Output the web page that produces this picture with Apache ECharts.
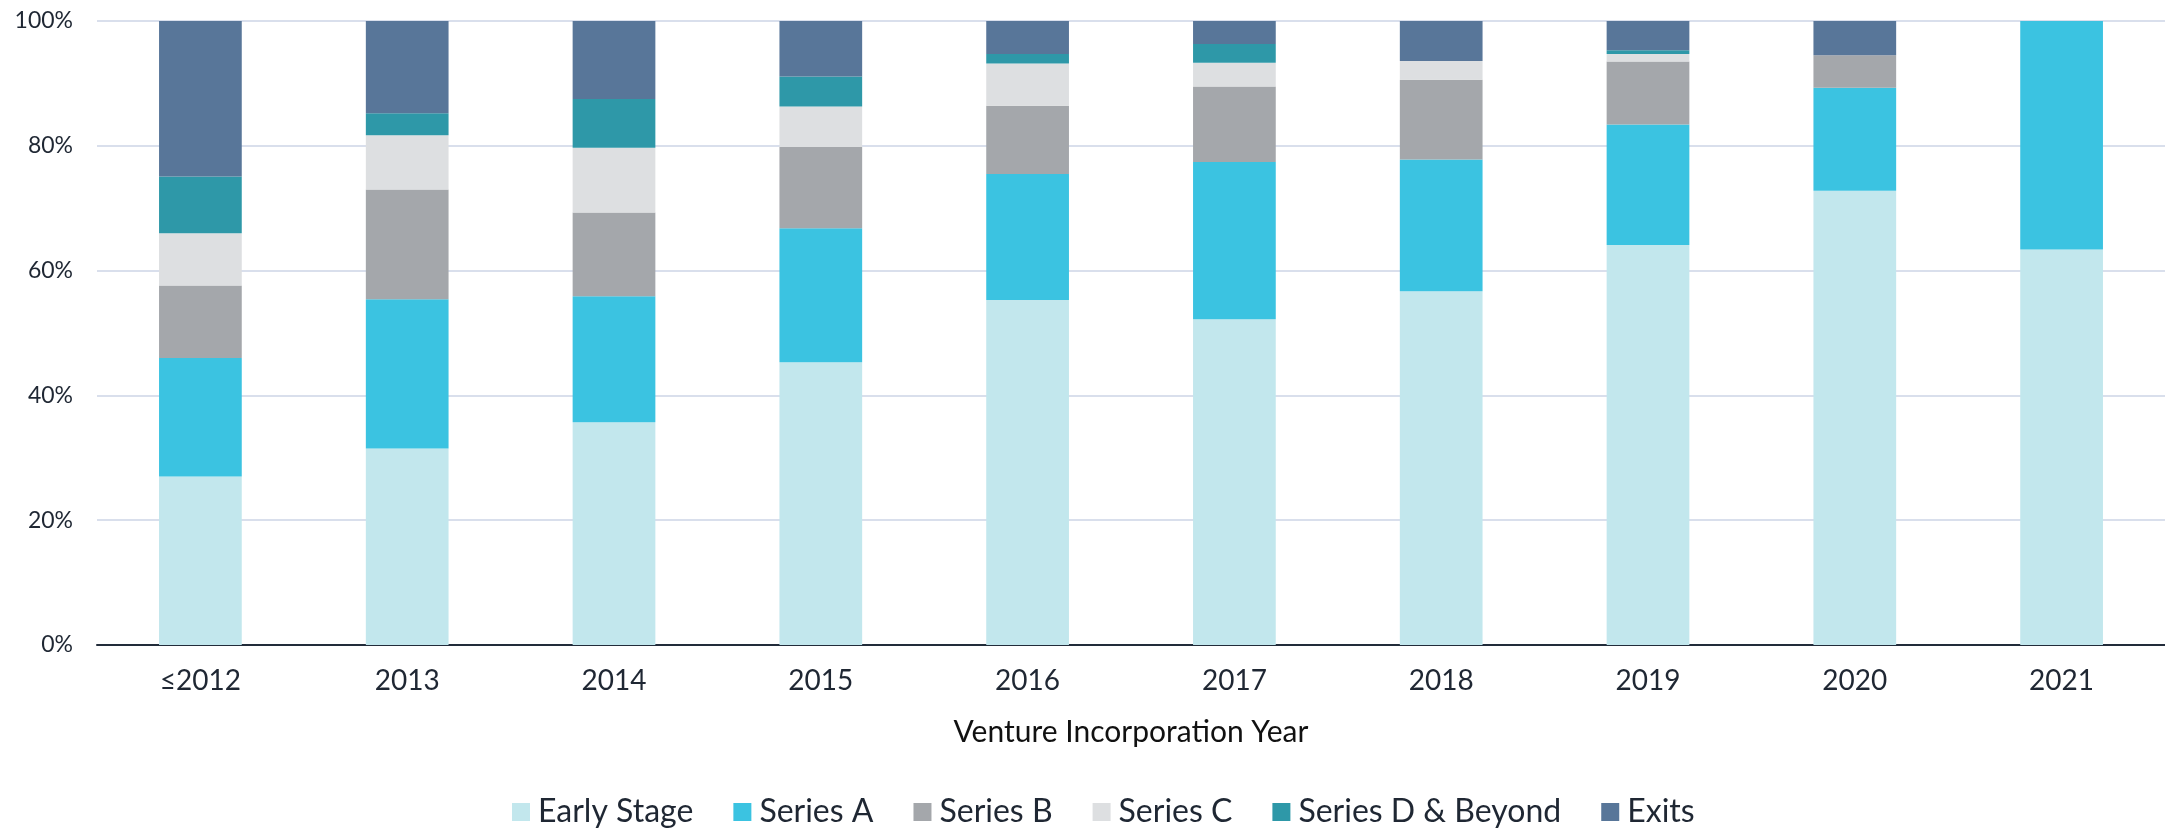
<!DOCTYPE html>
<html>
<head>
<meta charset="utf-8">
<script src="https://cdn.jsdelivr.net/npm/echarts@6/dist/echarts.min.js"></script>
<style>
  html, body { margin: 0; padding: 0; background: #fff; }
  #chart { width: 2165px; height: 829px; }
</style>
</head>
<body>
<div id="chart"></div>
<script>
// Share of ventures by latest stage, per incorporation year (%)
const years = ['≤2012', '2013', '2014', '2015', '2016', '2017', '2018', '2019', '2020', '2021'];
const earlyStage = [27.0, 31.5, 35.7, 45.3, 55.3, 52.2, 56.7, 64.1, 72.8, 63.4];
const seriesA    = [19.0, 23.9, 20.2, 21.5, 20.2, 25.2, 21.1, 19.3, 16.5, 36.6];
const seriesB    = [11.6, 17.6, 13.4, 13.0, 10.9, 12.1, 12.8, 10.1, 5.2, 0];
const seriesC    = [8.4, 8.7, 10.4, 6.5, 6.8, 3.8, 3.0, 1.2, 0, 0];
const seriesD    = [9.1, 3.5, 7.8, 4.8, 1.5, 3.0, 0, 0.6, 0, 0];
const exits      = [24.9, 14.8, 12.5, 8.9, 5.3, 3.7, 6.4, 4.7, 5.5, 0];

const TEXT = '#1f2733';
const FONT = 'Lato, "Noto Sans", sans-serif';

const stages = [
  { name: 'Early Stage', data: earlyStage, color: '#c2e7ed' },
  { name: 'Series A', data: seriesA, color: '#3bc3e1' },
  { name: 'Series B', data: seriesB, color: '#a4a7ab' },
  { name: 'Series C', data: seriesC, color: '#dddfe1' },
  { name: 'Series D & Beyond', data: seriesD, color: '#2e98a8' },
  { name: 'Exits', data: exits, color: '#587699' }
];

const chart = echarts.init(document.getElementById('chart'));

chart.setOption({
  animation: false,
  textStyle: { fontFamily: FONT, color: TEXT },
  grid: { left: 97, right: 0, top: 21, bottom: 184, containLabel: false },
  legend: {
    top: 791,
    left: 507, // legend sits a little right of page centre
    itemWidth: 18,
    itemHeight: 18,
    itemGap: 40,
    icon: 'rect',
    textStyle: { fontSize: 32, color: TEXT, fontFamily: FONT, padding: [0, 0, 0, 3] },
    data: stages.map(s => s.name)
  },
  xAxis: {
    type: 'category',
    data: years,
    name: 'Venture Incorporation Year',
    nameLocation: 'middle',
    nameGap: 72,
    nameTextStyle: { fontSize: 30, color: '#111', fontFamily: FONT },
    axisLine: { lineStyle: { color: '#222c3a', width: 2 } },
    axisTick: { show: false },
    axisLabel: { fontSize: 28, color: TEXT, margin: 22, fontFamily: FONT }
  },
  yAxis: {
    type: 'value',
    min: 0,
    max: 100,
    interval: 20,
    axisLine: { show: false },
    axisTick: { show: false },
    axisLabel: { formatter: '{value}%', fontSize: 23, color: TEXT, margin: 24, fontFamily: FONT },
    splitLine: { lineStyle: { color: '#d9dfec', width: 2 } }
  },
  series: stages.map(s => ({
    name: s.name,
    type: 'bar',
    stack: 'total',
    barWidth: '40%',
    data: s.data,
    itemStyle: { color: s.color },
    emphasis: { disabled: true }
  }))
});
</script>
</body>
</html>
